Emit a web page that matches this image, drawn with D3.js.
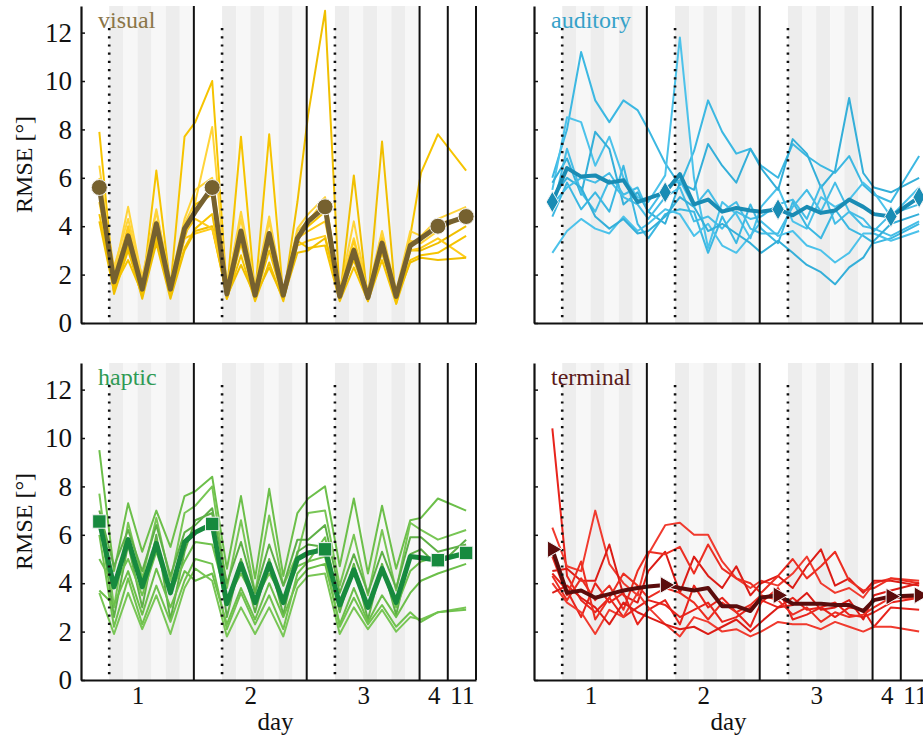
<!DOCTYPE html>
<html>
<head>
<meta charset="utf-8">
<script src="https://cdn.jsdelivr.net/npm/d3@7"></script>
<style>
body{margin:0;background:#fff}
svg{display:block}
svg text{font-family:"Liberation Serif","Tinos","DejaVu Serif","Times New Roman",serif !important}
</style>
</head>
<body>
<script>
// days on the x axis
var dayLabels = ["1","2","3","4","11"];
var dayTicks = [2, 6, 10, 12.5, 13.5];
var yTicks = [0,2,4,6,8,10,12];

// session positions (in day units): pretest, 6 training blocks, post for days 1-3, then day 4 and day 11 tests
var sessionPos = [0.65,1.17,1.67,2.17,2.67,3.17,3.67,4.05,
                  4.65,5.17,5.67,6.17,6.67,7.17,7.67,8.05,
                  8.65,9.17,9.67,10.17,10.67,11.17,11.67,12.05,
                  12.65,13.65];
var testIdx = [0,8,16,24,25];
var solidLines = [4,8,12,13,14];
var dottedLines = [1,5,9];
var trainingStarts = [1,5,9];

var visualMean = [5.6,1.7,3.6,1.4,4.1,1.4,3.9,4.6, 5.6,1.2,3.8,1.15,3.7,1.15,3.5,4.2, 4.8,1.1,3.0,1.05,3.3,1.1,3.2,3.5, 4.0,4.4];
var visualSubjects = [
  [7.9,1.6,3.4,1.3,6.3,1.5,7.7,8.3, 10.0,1.3,7.7,1.2,7.8,1.1,3.6,4.0, 4.6,1.2,3.1,1.0,3.4,1.0,3.6,6.2, 7.8,6.3],
  [6.5,2.0,4.8,1.8,4.7,1.6,4.1,5.0, 8.1,1.4,4.6,1.5,4.4,1.3,3.8,4.2, 5.1,1.3,4.2,1.2,3.7,1.2,3.4,3.3, 3.8,4.5],
  [5.5,1.2,3.0,1.1,4.0,1.2,3.5,4.9, 5.3,1.0,3.3,1.0,3.0,1.0,5.0,8.6, 12.9,1.0,6.1,0.9,7.5,0.8,3.0,3.0, 3.3,4.0],
  [5.0,1.8,3.8,1.5,3.6,1.3,3.5,3.7, 3.9,1.2,3.6,1.2,3.5,1.0,3.2,3.4, 3.6,1.1,2.8,1.1,3.2,1.2,3.0,3.1, 3.5,2.7],
  [4.5,1.5,2.6,1.2,3.5,1.1,3.1,3.9, 4.5,1.0,2.8,0.9,2.5,0.9,3.4,3.1, 3.2,0.9,2.3,0.9,2.6,0.8,2.6,2.8, 2.9,3.6],
  [6.0,2.3,4.3,1.9,4.6,1.7,4.3,5.5, 6.0,1.6,4.3,1.4,4.2,1.3,3.9,4.5, 5.2,1.4,3.5,1.3,3.8,1.3,3.8,3.6, 4.3,4.8],
  [4.2,1.3,3.2,1.0,3.3,1.0,3.0,3.8, 4.0,1.1,2.4,1.1,2.3,1.0,2.9,3.0, 3.5,1.2,2.6,1.0,2.9,1.0,2.5,2.7, 2.6,2.7],
  [5.4,1.9,4.0,1.6,4.2,1.4,3.7,4.3, 3.9,1.5,3.5,1.3,3.3,1.2,3.5,3.8, 4.2,1.3,3.4,1.2,3.5,1.1,3.3,3.5, 4.1,4.4]
];

var auditoryMean = [5.0,6.4,6.05,6.1,5.8,5.9,5.0,5.15, 5.4,6.15,4.9,5.1,4.6,4.75,4.65,4.6, 4.7,4.45,4.8,4.55,4.65,5.1,4.8,4.5, 4.4,5.2];
var auditorySubjects = [
  [6.0,8.0,11.2,9.2,8.3,9.2,8.8,8.0, 6.6,5.7,7.1,9.2,7.9,7.0,7.2,6.5, 6.0,7.4,6.9,6.5,6.2,6.9,5.7,5.3, 5.0,6.9],
  [5.5,8.5,8.3,6.5,7.7,6.0,5.2,5.0, 6.1,11.8,6.0,3.1,5.0,4.5,3.5,4.8, 5.6,4.2,3.9,5.2,4.8,5.1,5.8,5.4, 4.4,5.6],
  [5.8,6.8,5.3,7.9,7.2,4.9,5.4,4.6, 4.1,5.8,5.5,7.4,6.5,5.8,7.2,6.4, 5.5,7.6,7.0,5.6,6.3,9.3,6.2,5.6, 5.4,6.0],
  [4.6,7.2,5.4,4.6,5.9,5.2,4.9,4.3, 5.2,5.6,4.2,4.4,3.9,4.6,4.3,4.4, 4.9,5.1,4.3,5.7,4.1,4.6,4.0,3.9, 3.6,4.2],
  [4.4,5.8,4.7,5.4,4.6,6.5,4.1,3.5, 4.5,4.7,4.6,2.9,4.4,3.3,4.9,3.9, 3.3,5.0,4.0,3.5,4.7,3.9,3.6,3.3, 3.5,4.1],
  [2.9,3.8,4.3,3.9,3.7,4.4,3.8,4.1, 4.7,4.5,3.6,4.1,3.2,2.9,3.6,4.2, 3.6,3.8,3.2,3.0,2.5,2.9,3.7,3.7, 3.4,3.8],
  [5.2,6.0,5.6,4.4,3.9,4.3,3.7,3.8, 4.4,5.2,4.8,3.8,4.1,3.7,3.3,2.9, 3.4,2.9,2.4,2.1,1.6,2.3,2.7,3.4, 4.1,4.5],
  [4.9,5.6,6.0,5.8,6.2,5.3,5.6,4.6, 5.6,5.9,4.8,5.5,4.6,5.0,3.9,3.7, 3.7,4.8,5.5,4.6,5.8,4.6,4.3,3.8, 4.5,4.9]
];

var hapticMean = [6.55,3.85,5.8,3.85,5.65,3.6,5.7,6.1, 6.45,3.15,4.8,3.2,4.8,3.2,5.0,5.25, 5.4,3.1,4.55,3.0,4.6,3.2,5.1,5.05, 4.95,5.25];
var hapticSubjects = [
  [9.5,4.5,7.3,5.3,7.0,5.5,7.6,7.8, 8.4,4.6,7.6,4.2,7.9,4.3,6.9,7.5, 8.0,4.7,7.5,4.4,7.2,4.6,6.6,6.7, 7.5,7.0],
  [7.7,3.0,6.5,4.2,6.7,4.1,6.9,7.2, 8.0,3.8,6.6,3.6,6.8,3.9,5.2,6.9, 7.0,3.9,6.0,3.5,6.2,3.7,6.5,6.2, 5.8,6.2],
  [6.7,2.6,5.6,3.0,6.0,2.5,5.3,6.6, 6.9,2.6,5.0,2.8,5.0,2.7,5.3,5.6, 5.5,2.8,4.8,2.5,4.8,2.7,5.2,5.4, 4.7,5.8],
  [5.0,3.9,5.0,3.5,5.3,3.6,4.9,5.7, 5.6,3.3,4.4,3.3,4.4,3.4,4.7,4.9, 5.9,3.0,4.7,3.1,4.6,3.0,4.5,4.9, 5.1,5.1],
  [3.7,3.1,4.5,2.7,4.6,3.0,4.5,4.1, 4.4,2.3,3.8,2.5,4.0,2.6,4.1,4.6, 4.8,2.3,3.8,2.4,3.5,2.6,3.6,4.1, 4.4,4.8],
  [3.6,1.9,3.6,2.1,3.5,1.9,3.8,4.6, 4.1,1.8,3.0,1.9,3.0,1.8,3.8,4.3, 4.4,1.9,3.0,2.1,2.9,2.0,2.6,2.5, 2.8,3.0],
  [7.0,4.7,6.2,4.5,6.4,4.3,6.1,6.4, 7.1,4.0,5.7,3.6,5.6,3.9,5.8,5.8, 6.4,3.6,5.2,3.6,5.3,3.8,5.9,5.9, 5.3,5.6],
  [6.0,2.2,4.2,2.3,3.9,2.4,4.1,5.0, 4.8,2.1,3.6,2.3,3.5,2.1,4.4,4.9, 5.1,2.2,3.4,2.3,3.1,2.2,2.8,2.4, 2.8,2.9]
];

var terminalMean = [5.4,3.6,3.7,3.4,3.55,3.7,3.8,3.86, 3.93,3.8,3.7,3.8,3.05,3.05,2.85,3.4, 3.5,3.15,3.15,3.15,3.1,3.1,2.85,3.3, 3.45,3.5];
var terminalSubjects = [
  [10.4,4.3,3.3,2.8,3.4,2.6,3.0,3.3, 3.1,2.6,2.9,3.2,2.4,2.6,3.0,3.3, 3.0,3.4,2.9,3.0,3.2,2.7,2.6,2.8, 3.2,3.4],
  [6.3,4.7,4.5,7.0,4.8,4.0,3.5,5.2, 6.4,6.5,6.0,6.0,4.9,4.2,3.8,4.1, 3.9,4.4,5.1,4.0,3.6,3.8,3.4,4.0, 4.2,4.1],
  [4.5,4.6,4.1,4.1,5.6,3.5,3.2,4.5, 5.3,3.6,5.1,4.3,3.8,4.7,3.5,4.0, 4.3,3.8,4.7,5.4,3.9,4.2,3.6,4.1, 4.1,3.9],
  [4.3,3.3,4.2,3.3,3.9,2.9,4.5,5.3, 5.2,5.5,4.4,5.6,4.6,4.2,4.0,3.6, 4.3,5.0,4.2,4.7,5.3,4.1,3.7,3.8, 4.2,4.0],
  [4.4,3.7,2.6,4.0,3.2,3.6,2.3,2.9, 3.3,2.3,3.9,3.0,3.4,2.8,2.2,3.2, 3.8,2.5,2.7,3.0,2.6,3.0,2.9,2.2, 3.0,2.9],
  [4.0,3.2,2.8,1.9,2.9,2.6,3.6,3.0, 2.3,1.8,2.6,2.4,2.0,2.1,1.8,2.0, 2.4,2.3,2.3,2.1,2.4,2.2,2.0,2.2, 2.2,2.0],
  [3.6,3.9,3.4,3.0,2.3,3.2,2.8,2.6, 2.3,2.1,2.2,1.9,2.2,2.5,2.0,2.4, 3.0,3.1,3.6,2.9,3.0,3.3,2.5,3.5, 3.7,4.0],
  [5.1,3.5,4.9,2.5,3.4,4.4,3.9,3.4, 3.8,3.6,3.2,2.5,3.2,2.8,3.1,3.5, 3.3,2.7,3.0,2.4,2.8,2.6,2.7,3.0, 3.4,3.4]
];

var W = 923, H = 748, PW = 395, PH = 317;

var panels = [
  {label:"visual", left:81, top:6, subjects:visualSubjects, mean:visualMean,
   thin:["#f6c400","#ffd43a","#f0bf00","#ffcc1a"], meanColor:"#76612f", labelColor:"#8a7547",
   meanWidth:5, symbol:d3.symbolCircle, size:200, rot:0, yLabels:true, xLabels:false},
  {label:"auditory", left:534, top:6, subjects:auditorySubjects, mean:auditoryMean,
   thin:["#3cb8e2","#4cc2ea","#34afd9","#45bde6"], meanColor:"#1a8cb4", labelColor:"#36a2c9",
   meanWidth:4, symbol:d3.symbolDiamond, size:130, rot:0, yLabels:false, xLabels:false},
  {label:"haptic", left:81, top:363, subjects:hapticSubjects, mean:hapticMean,
   thin:["#6cbf4a","#78c655","#5fb047","#70c24e"], meanColor:"#178a3e", labelColor:"#2f9a55",
   meanWidth:5, symbol:d3.symbolSquare, size:180, rot:0, yLabels:true, xLabels:true},
  {label:"terminal", left:534, top:363, subjects:terminalSubjects, mean:terminalMean,
   thin:["#e8241c","#f03a2e","#dc1c16","#ec2e22"], meanColor:"#5a0c0c", labelColor:"#5b1a1a",
   meanWidth:4, symbol:d3.symbolTriangle, size:120, rot:90, yLabels:false, xLabels:true}
];

var svg = d3.select("body").append("svg")
  .attr("width", W)
  .attr("height", H);

panels.forEach(function(p){
  var x = d3.scaleLinear().domain([0,14]).range([p.left, p.left+PW]);
  var y = d3.scaleLinear().domain([0,13.1]).range([p.top+PH, p.top]);
  var g = svg.append("g");

  // shaded training blocks
  trainingStarts.forEach(function(s){
    d3.range(6).forEach(function(k){
      g.append("rect")
        .attr("x", x(s+k*0.5))
        .attr("y", y(13.1))
        .attr("width", x(s+(k+1)*0.5)-x(s+k*0.5))
        .attr("height", y(0)-y(13.1))
        .attr("fill", k%2==0 ? "#ededed" : "#f7f7f7");
    });
  });

  var line = d3.line()
    .x(function(d,i){return x(sessionPos[i]);})
    .y(function(d){return y(d);});

  g.selectAll("path.subj")
    .data(p.subjects)
    .enter().append("path")
      .attr("class","subj")
      .attr("d", line)
      .attr("fill","none")
      .attr("stroke", function(d,i){return p.thin[i%p.thin.length];})
      .attr("stroke-width", 2)
      .attr("stroke-linejoin","round");

  g.append("path")
    .attr("d", line(p.mean))
    .attr("fill","none")
    .attr("stroke", p.meanColor)
    .attr("stroke-width", p.meanWidth)
    .attr("stroke-linejoin","round");

  // day separators and training onsets
  g.selectAll("line.solid")
    .data(solidLines)
    .enter().append("line")
      .attr("x1", function(d){return x(d);})
      .attr("x2", function(d){return x(d);})
      .attr("y1", y(13.1))
      .attr("y2", y(0))
      .attr("stroke","#111")
      .attr("stroke-width",2);

  g.selectAll("line.dot")
    .data(dottedLines)
    .enter().append("line")
      .attr("x1", function(d){return x(d);})
      .attr("x2", function(d){return x(d);})
      .attr("y1", y(13.1)+22)
      .attr("y2", y(0))
      .attr("stroke","#111")
      .attr("stroke-width",2.6)
      .attr("stroke-dasharray","2.2,6");

  // test markers
  g.selectAll("path.mark")
    .data(testIdx)
    .enter().append("path")
      .attr("d", d3.symbol(p.symbol, p.size))
      .attr("transform", function(i){return "translate("+x(sessionPos[i])+","+y(p.mean[i])+") rotate("+p.rot+")";})
      .attr("fill", p.meanColor)
      .attr("stroke","#f2f2f2")
      .attr("stroke-width",1);

  // axes
  var yAxis = d3.axisLeft(y)
    .tickValues(yTicks)
    .tickSizeInner(-4)
    .tickSizeOuter(0)
    .tickPadding(9)
    .tickFormat(p.yLabels ? d3.format("d") : "");
  var ya = g.append("g").attr("transform","translate("+p.left+",0)").call(yAxis);

  var xAxis = d3.axisBottom(x)
    .tickValues(dayTicks)
    .tickSize(0)
    .tickPadding(6)
    .tickFormat(function(d,i){return p.xLabels ? dayLabels[i] : "";});
  var xa = g.append("g").attr("transform","translate(0,"+(p.top+PH)+")").call(xAxis);

  [ya, xa].forEach(function(a){
    a.attr("font-family", null);
    a.select(".domain").attr("stroke","#111").attr("stroke-width",2.2);
    a.selectAll(".tick line").attr("stroke","#111").attr("stroke-width",1.5);
    a.selectAll("text")
      .attr("font-size",25)
      .attr("fill","#111");
  });
  ya.selectAll("text").attr("font-size",27);

  g.append("text")
    .attr("x", p.left+17)
    .attr("y", p.top+22)
    .attr("font-size",24)
    .attr("fill", p.labelColor)
    .text(p.label);

  if (p.yLabels) {
    g.append("text")
      .attr("transform","translate(32,"+(p.top+PH/2)+") rotate(-90)")
      .attr("text-anchor","middle")
      .attr("font-size",24)
      .attr("fill","#111")
      .text("RMSE [°]");
  }
  if (p.xLabels) {
    g.append("text")
      .attr("x", p.left+PW/2-3)
      .attr("y", p.top+PH+50)
      .attr("text-anchor","middle")
      .attr("font-size",25)
      .attr("fill","#111")
      .text("day");
  }
});
</script>
</body>
</html>
